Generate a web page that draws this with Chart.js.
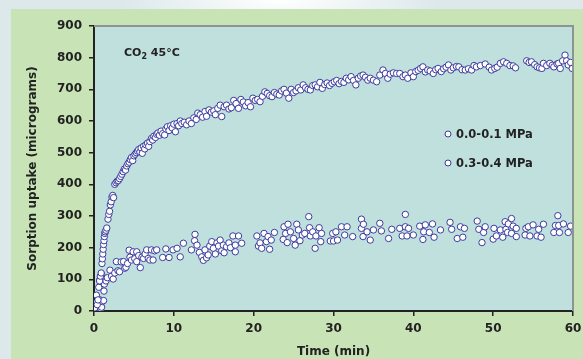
<!DOCTYPE html>
<html>
<head>
<meta charset="utf-8">
<script src="https://cdn.jsdelivr.net/npm/chart.js@4"></script>
<style>
  html, body { margin: 0; padding: 0; }
  body {
    width: 583px; height: 359px; overflow: hidden;
    background: radial-gradient(ellipse 160px 40px at 280px 0px, #ffffff 0%, #dde8eb 100%), #dde8eb;
  }
  #wrap { position: absolute; left: 0; top: 0; width: 583px; height: 359px; }
  canvas { display: block; }
</style>
</head>
<body>
<div id="wrap"><canvas id="sorption" width="583" height="359" style="width:583px;height:359px"></canvas></div>
<script>
// 0.0-0.1 MPa run: time (min) / uptake (micrograms)
const lowTime = [0.0,0.1,0.2,0.3,0.4,0.5,0.6,0.7,0.8,0.9,1.0,1.05,1.1,1.15,1.2,1.25,1.3,1.35,1.4,1.5,1.6,1.75,1.85,1.95,2.05,2.15,2.25,2.35,2.45,2.6,2.75,2.9,3.05,3.2,3.35,3.5,3.65,3.8,3.95,4.1,4.25,4.4,4.55,4.7,4.85,5.0,5.15,5.3,5.45,5.6,5.75,5.9,6.05,6.2,6.35,6.5,6.7,6.85,7.0,7.2,7.35,7.5,7.7,7.85,8.0,8.2,8.4,8.6,8.85,9.0,9.2,9.4,9.6,9.8,10.0,10.2,10.4,10.6,10.8,11.0,11.3,11.6,11.9,12.2,12.5,12.8,13.0,13.3,13.6,13.9,14.1,14.4,14.7,15.0,15.2,15.5,15.8,16.0,16.3,16.6,16.9,17.2,17.5,17.8,18.1,18.4,18.7,19.0,19.3,19.6,19.9,20.2,20.5,20.8,21.1,21.4,21.7,22.0,22.3,22.6,22.9,23.2,23.5,23.8,24.1,24.4,24.7,25.0,25.3,25.6,25.9,26.2,26.5,26.8,27.1,27.4,27.7,28.0,28.3,28.6,28.9,29.2,29.5,29.8,30.1,30.4,30.7,31.0,31.3,31.6,31.9,32.2,32.5,32.8,33.1,33.4,33.7,34.0,34.3,34.6,35.0,35.4,35.8,36.2,36.5,36.8,37.1,37.5,37.9,38.3,38.7,39.0,39.3,39.7,40.0,40.3,40.6,40.9,41.2,41.5,41.8,42.1,42.5,42.8,43.1,43.5,43.8,44.1,44.4,44.7,45.0,45.4,45.7,46.1,46.5,46.9,47.3,47.6,47.9,48.4,49.0,49.5,49.8,50.2,50.5,50.9,51.3,51.7,52.1,52.5,52.8,54.2,54.5,54.8,55.2,55.5,55.8,56.1,56.3,56.7,57.1,57.4,57.6,58.0,58.2,58.4,58.7,59.0,59.2,59.4,59.7,59.9];
const lowUptake = [0,10,25,50,20,35,75,95,110,120,150,165,180,195,210,222,235,245,250,255,262,290,305,315,335,345,360,365,358,400,405,410,412,418,425,432,440,448,445,458,465,470,478,485,475,490,495,500,505,510,502,515,498,520,512,525,530,520,535,545,540,552,548,558,562,555,568,560,556,575,582,570,585,578,590,566,592,585,600,592,596,588,600,592,610,605,625,620,612,630,615,635,628,632,620,640,650,614,645,650,638,642,665,655,640,668,660,648,658,645,672,665,668,661,678,692,687,680,677,690,685,682,695,700,688,672,700,690,695,705,698,714,705,700,698,712,714,708,722,703,715,720,712,719,724,728,718,725,722,735,730,740,728,714,735,742,745,738,729,735,729,724,745,761,750,735,748,752,750,750,740,745,735,752,740,756,760,766,771,755,761,758,750,762,766,756,765,770,777,761,768,772,771,762,761,765,761,775,771,775,780,770,761,766,770,782,787,782,775,774,768,790,785,787,778,771,768,766,782,775,782,776,771,780,782,766,790,808,790,777,785,766];

// 0.3-0.4 MPa run
const highTime = [0.0,0.15,0.3,0.5,0.6,0.75,0.85,0.95,1.05,1.2,1.25,1.3,0.7,0.96,1.5,1.67,2.0,2.2,2.4,2.6,2.8,3.0,3.2,3.4,3.7,3.85,4.0,4.2,4.4,4.5,4.7,4.9,5.1,5.35,5.35,5.6,5.8,6.0,6.2,6.4,6.6,6.8,7.0,7.2,7.4,7.6,7.85,8.6,9.0,9.4,9.9,10.4,10.8,11.2,12.2,12.6,12.65,12.9,13.2,13.5,13.7,13.9,14.1,14.3,14.5,14.75,14.95,15.2,15.4,15.6,15.8,16.0,16.2,16.3,16.6,16.9,17.1,17.4,17.7,17.7,18.1,18.5,20.4,20.6,20.8,21.0,21.3,21.6,21.8,22.0,22.2,22.6,23.7,23.8,24.0,24.2,24.3,24.6,25.0,25.2,25.4,25.6,25.8,26.1,26.4,26.9,27.0,27.1,27.4,27.7,27.8,28.2,28.4,28.5,29.6,29.9,30.0,30.3,30.5,31.0,31.4,31.7,32.4,33.5,33.5,33.75,33.7,34.2,34.6,35.0,35.8,36.0,36.9,37.3,38.3,38.6,39.0,39.0,39.2,39.4,40.0,40.8,41.2,41.3,41.5,42.0,42.4,42.6,43.4,44.6,44.8,45.5,45.9,46.2,46.4,48.0,48.2,48.6,48.8,49.0,50.0,50.1,50.4,50.9,51.2,51.5,51.6,51.8,51.9,52.3,52.3,52.5,52.9,52.9,54.0,54.1,54.4,54.6,55.0,55.5,55.7,56.0,56.3,57.6,57.8,58.1,58.2,58.3,58.8,59.4,59.7];
const highUptake = [0,5,13,20,30,35,8,12,30,33,63,85,98,116,95,105,129,110,101,120,156,127,124,155,156,135,138,150,192,170,161,187,165,187,156,175,137,170,166,180,193,166,161,193,161,190,193,169,196,169,193,198,171,214,193,222,242,208,185,171,160,193,168,177,205,219,198,180,215,205,224,190,208,184,203,215,200,237,208,187,237,214,237,205,215,198,245,219,235,195,224,248,226,266,245,216,274,250,229,208,274,256,222,240,245,298,263,237,250,198,237,263,219,245,221,245,221,250,224,266,240,266,235,290,261,274,235,250,224,256,277,253,229,258,261,237,305,266,237,261,240,268,226,250,272,248,275,233,256,280,258,229,266,233,261,284,258,216,248,266,227,261,237,256,233,282,258,248,275,292,245,268,261,235,240,261,266,237,272,237,258,233,274,248,270,301,270,248,275,248,268];

const xTicks = [0, 10, 20, 30, 40, 50, 60];
const seriesNames = ['0.0-0.1 MPa', '0.3-0.4 MPa'];

const FONT = '"DejaVu Sans", Verdana, sans-serif';
const INK = '#222222';
const MARK = '#3b3b9e';

function toPoints(xs, ys) {
    return xs.map((x, i) => ({ x: x, y: ys[i] }));
}

// green panel, plot fill, gray top/right frame
const panelPlugin = {
    id: 'panel',
    beforeDraw(chart) {
        const { ctx, chartArea: a } = chart;
        ctx.save();
        ctx.fillStyle = '#c8e4b6';
        ctx.fillRect(11, 9, chart.width - 11, chart.height - 9);
        ctx.fillStyle = '#c0e0de';
        ctx.fillRect(a.left, a.top, a.right - a.left, a.bottom - a.top);
        ctx.restore();
    },
    afterDatasetsDraw(chart) {
        const { ctx, chartArea: a } = chart;
        ctx.save();
        ctx.strokeStyle = '#8e9494';
        ctx.lineWidth = 2;
        ctx.beginPath();
        ctx.moveTo(a.left, a.top);
        ctx.lineTo(a.right, a.top);
        ctx.lineTo(a.right, a.bottom);
        ctx.stroke();
        ctx.restore();
    }
};

// in-plot annotation and legend
const labelPlugin = {
    id: 'labels',
    afterDraw(chart) {
        const ctx = chart.ctx;
        const a = chart.chartArea;
        ctx.save();
        ctx.fillStyle = INK;
        ctx.textBaseline = 'alphabetic';

        // CO2 45°C
        let tx = a.left + 30, ty = a.top + 30;
        ctx.font = 'bold 11px ' + FONT;
        ctx.fillText('CO', tx, ty);
        tx += ctx.measureText('CO').width;
        ctx.font = 'bold 8px ' + FONT;
        ctx.fillText('2', tx, ty + 3);
        tx += ctx.measureText('2').width;
        ctx.font = 'bold 11px ' + FONT;
        ctx.fillText(' 45°C', tx, ty);

        // legend
        const lx = a.left + 354;
        const rows = [a.top + 108, a.top + 137];
        seriesNames.forEach((name, i) => {
            ctx.beginPath();
            ctx.arc(lx, rows[i], 3, 0, Math.PI * 2);
            ctx.fillStyle = '#ffffff';
            ctx.fill();
            ctx.lineWidth = 1;
            ctx.strokeStyle = MARK;
            ctx.stroke();
            ctx.fillStyle = INK;
            ctx.font = 'bold 11.5px ' + FONT;
            ctx.textBaseline = 'middle';
            ctx.fillText(name, lx + 8, rows[i] + 1);
        });
        ctx.restore();
    }
};

const pointStyle = {
    showLine: false,
    pointRadius: 3.2,
    pointHoverRadius: 3.2,
    pointBackgroundColor: '#ffffff',
    pointBorderColor: MARK,
    pointBorderWidth: 1
};

new Chart(document.getElementById('sorption'), {
    type: 'scatter',
    data: {
        datasets: [
            Object.assign({ label: seriesNames[0], data: toPoints(lowTime, lowUptake) }, pointStyle),
            Object.assign({ label: seriesNames[1], data: toPoints(highTime, highUptake) }, pointStyle)
        ]
    },
    options: {
        responsive: false,
        animation: false,
        devicePixelRatio: 1,
        layout: { padding: { left: 0, top: 26, right: 10, bottom: 0 } },
        plugins: {
            legend: { display: false },
            tooltip: { enabled: false }
        },
        scales: {
            x: {
                type: 'linear',
                min: 0,
                max: 60,
                afterBuildTicks(scale) { scale.ticks = xTicks.map(v => ({ value: v })); },
                afterFit(scale) {
                    scale.height = 48;
                    scale.paddingLeft = 8;
                    scale.paddingRight = 8;
                },
                border: { display: true, color: INK, width: 2 },
                grid: { drawOnChartArea: false, drawTicks: true, tickLength: 5, color: INK, lineWidth: 1.5 },
                ticks: { color: INK, padding: 6, font: { family: FONT, size: 12, weight: 'bold' } },
                title: {
                    display: true,
                    text: 'Time (min)',
                    color: INK,
                    padding: { top: 0, bottom: 0 },
                    font: { family: FONT, size: 12, weight: 'bold' }
                }
            },
            y: {
                type: 'linear',
                min: 0,
                max: 900,
                afterFit(scale) { scale.width = 94; },
                border: { display: true, color: INK, width: 2 },
                grid: { drawOnChartArea: false, drawTicks: true, tickLength: 5, color: INK, lineWidth: 1.5 },
                ticks: { stepSize: 100, color: INK, padding: 7, font: { family: FONT, size: 12, weight: 'bold' } },
                title: {
                    display: true,
                    text: 'Sorption uptake (micrograms)',
                    color: INK,
                    padding: { top: 26, bottom: 0 },
                    font: { family: FONT, size: 12, weight: 'bold' }
                }
            }
        }
    },
    plugins: [panelPlugin, labelPlugin]
});
</script>
</body>
</html>
